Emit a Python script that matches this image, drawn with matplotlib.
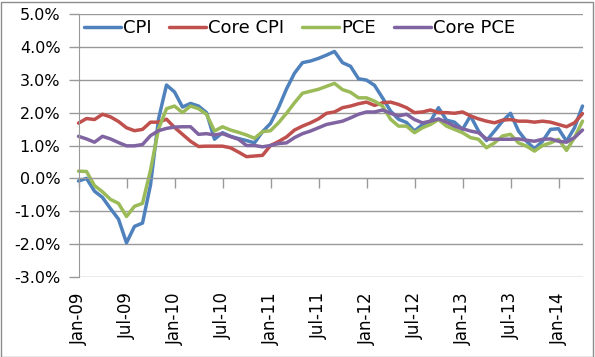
import matplotlib
matplotlib.use('Agg')
import matplotlib.pyplot as plt
import numpy as np
from matplotlib.ticker import MultipleLocator, FuncFormatter
from matplotlib.patches import Rectangle

# Monthly year-over-year inflation, Jan-09 .. Apr-14
cpi = [-0.08, 0.00, -0.39, -0.58, -0.92, -1.24, -1.96, -1.46, -1.36, -0.20,
       1.80, 2.84, 2.63, 2.17, 2.28, 2.20, 2.00, 1.19, 1.39, 1.28,
       1.21, 1.15, 1.08, 1.42, 1.67, 2.15, 2.72, 3.20, 3.52, 3.57,
       3.65, 3.75, 3.86, 3.52, 3.41, 3.03, 2.99, 2.83, 2.45, 2.05,
       1.80, 1.70, 1.44, 1.64, 1.74, 2.15, 1.77, 1.71, 1.49, 1.90,
       1.44, 1.15, 1.44, 1.74, 1.98, 1.44, 1.13, 0.90, 1.13, 1.49,
       1.51, 1.13, 1.54, 2.20]
core_cpi = [1.68, 1.82, 1.79, 1.95, 1.87, 1.73, 1.54, 1.45, 1.49, 1.71,
            1.71, 1.80, 1.55, 1.34, 1.13, 0.97, 0.98, 0.98, 0.98, 0.93,
            0.80, 0.66, 0.68, 0.70, 1.00, 1.12, 1.26, 1.47, 1.59, 1.69,
            1.81, 1.98, 2.02, 2.15, 2.20, 2.27, 2.32, 2.22, 2.30, 2.32,
            2.25, 2.15, 2.00, 2.02, 2.08, 2.00, 2.00, 1.98, 2.02, 1.90,
            1.81, 1.74, 1.69, 1.77, 1.79, 1.74, 1.74, 1.71, 1.74, 1.71,
            1.64, 1.57, 1.69, 1.97]
pce = [0.22, 0.21, -0.22, -0.41, -0.64, -0.76, -1.16, -0.85, -0.76, 0.25,
       1.50, 2.12, 2.20, 2.00, 2.20, 2.12, 1.95, 1.44, 1.57, 1.47,
       1.40, 1.32, 1.22, 1.42, 1.45, 1.69, 1.98, 2.30, 2.59, 2.65,
       2.71, 2.80, 2.89, 2.70, 2.62, 2.45, 2.45, 2.35, 2.20, 1.80,
       1.59, 1.59, 1.39, 1.54, 1.64, 1.79, 1.59, 1.49, 1.39, 1.24,
       1.19, 0.93, 1.08, 1.29, 1.34, 1.08, 0.98, 0.83, 1.00, 1.08,
       1.19, 0.85, 1.24, 1.74]
core_pce = [1.28, 1.20, 1.10, 1.28, 1.20, 1.09, 0.99, 0.99, 1.03, 1.30,
            1.45, 1.52, 1.56, 1.57, 1.57, 1.34, 1.36, 1.32, 1.36, 1.27,
            1.19, 1.00, 1.00, 0.96, 1.00, 1.06, 1.08, 1.24, 1.36, 1.44,
            1.54, 1.64, 1.69, 1.74, 1.84, 1.95, 2.02, 2.02, 2.08, 1.98,
            1.90, 1.95, 1.79, 1.69, 1.74, 1.81, 1.71, 1.59, 1.51, 1.44,
            1.39, 1.20, 1.19, 1.19, 1.19, 1.20, 1.16, 1.13, 1.19, 1.20,
            1.13, 1.10, 1.24, 1.47]

series_names = ['CPI', 'Core CPI', 'PCE', 'Core PCE']
tick_labels = ['Jan-09', 'Jul-09', 'Jan-10', 'Jul-10', 'Jan-11', 'Jul-11',
               'Jan-12', 'Jul-12', 'Jan-13', 'Jul-13', 'Jan-14']

colors = ['#4F81BD', '#C0504D', '#9BBB59', '#8064A2']
grid_c = '#999999'

W, H = 595, 357
fig = plt.figure(figsize=(W / 100, H / 100), dpi=100)
plt.rcParams['font.family'] = ['DejaVu Sans']

left, right, top, bottom = 78.5, 582.5, 14, 277
ax = fig.add_axes([left / W, 1 - bottom / H, (right - left) / W, (bottom - top) / H])
ax.set_facecolor('white')

x = np.arange(len(cpi))
for vals, name, c in zip([cpi, core_cpi, pce, core_pce], series_names, colors):
    ax.plot(x, vals, color=c, lw=2.5, label=name, clip_on=False,
            solid_joinstyle='round', solid_capstyle='round')

ax.set_xlim(0, len(cpi) - 1)
ax.set_ylim(-3, 5)
ax.yaxis.set_major_locator(MultipleLocator(1))
ax.yaxis.set_major_formatter(FuncFormatter(lambda v, p: f'{v:.1f}%'))
ax.grid(axis='y', color=grid_c, lw=1)
ax.set_axisbelow(True)

for s in ['top', 'right']:
    ax.spines[s].set_visible(False)
ax.spines['left'].set_color(grid_c)
ax.spines['bottom'].set_color(grid_c)
ax.spines['bottom'].set_position(('data', 0))

ticks = list(range(0, len(cpi), 6))
ax.set_xticks(ticks)
ax.tick_params(axis='x', direction='out', length=7, color=grid_c, width=1,
               labelbottom=False)
ax.tick_params(axis='y', direction='out', length=7, color=grid_c, width=1,
               labelsize=11.5, pad=6, labelcolor='black')

sec = ax.secondary_xaxis('bottom')
sec.set_xticks(ticks, tick_labels, rotation=90)
sec.tick_params(length=0, pad=11, labelsize=12, labelcolor='black')
sec.spines['bottom'].set_visible(False)

leg = ax.legend(loc='upper left', bbox_to_anchor=(0.0, 1.0), ncol=4,
                frameon=False, fontsize=13, handlelength=2.05,
                handletextpad=0.1, columnspacing=1.0, borderaxespad=0.0,
                borderpad=0.3)

fig.patches.append(Rectangle((0.5 / W, 0.5 / H), 1 - 3 / W, 1 - 2 / H,
                             transform=fig.transFigure, fill=False,
                             edgecolor='#8c8c8c', lw=1))

fig.savefig('out.png', dpi=100)
